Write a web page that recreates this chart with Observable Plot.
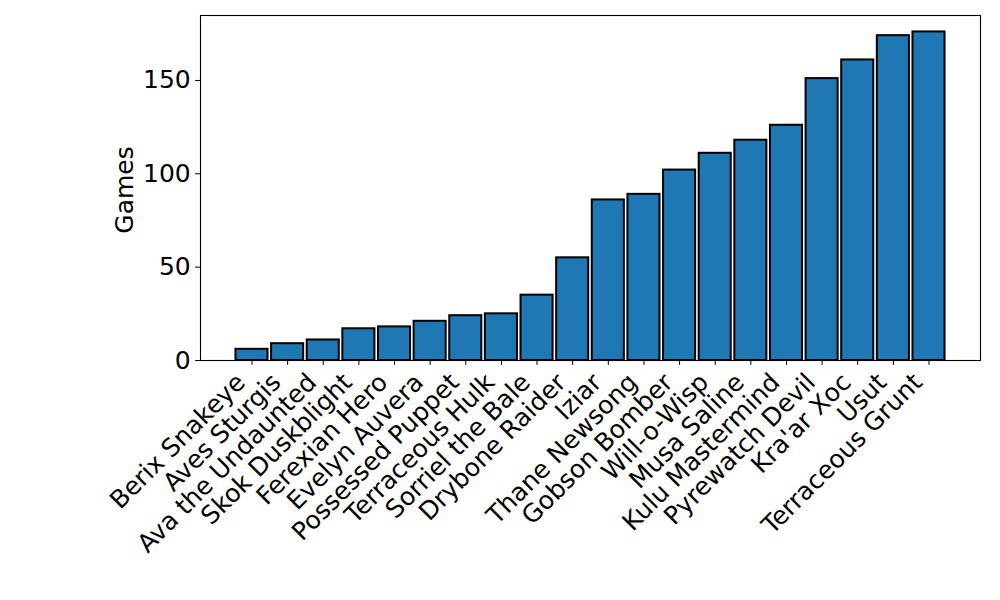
<!DOCTYPE html>
<html><head><meta charset="utf-8">
<script src="https://cdn.jsdelivr.net/npm/d3@7"></script>
<script src="https://cdn.jsdelivr.net/npm/@observablehq/plot@0.6"></script>
<style>body{margin:0;background:#fff}</style>
</head><body><div id="chart"></div>
<script>
const players = ["Berix Snakeye","Aves Sturgis","Ava the Undaunted","Skok Duskblight","Ferexian Hero","Evelyn Auvera","Possessed Puppet","Terraceous Hulk","Sorriel the Bale","Drybone Raider","Iziar","Thane Newsong","Gobson Bomber","Will-o-Wisp","Musa Saline","Kulu Mastermind","Pyrewatch Devil","Kra'ar Xoc","Usut","Terraceous Grunt"];
const games = [6, 9, 11, 17, 18, 21, 24, 25, 35, 55, 86, 89, 102, 111, 118, 126, 151, 161, 174, 176];
const yTicks = [0, 50, 100, 150];
const yLabel = "Games";

const data = players.map((p, i) => ({player: p, games: games[i]}));

const chart = Plot.plot({
  width: 1000, height: 600,
  marginLeft: 200, marginRight: 20, marginTop: 15, marginBottom: 240,
  style: {fontFamily: "DejaVu Sans", fontSize: "25px", color: "black", background: "white"},
  x: {domain: players, paddingInner: 0.1, paddingOuter: 0.995, align: 0.5, round: false, label: null},
  y: {domain: [0, 184.8], label: null},
  marks: [
    Plot.barY(data, {x: "player", y: "games", fill: "#1f77b4", stroke: "black", strokeWidth: 2}),
    Plot.frame({stroke: "black", strokeWidth: 1.1}),
    Plot.axisY({ticks: yTicks, tickSize: 4.86, tickPadding: 4.86, fontSize: 25, label: null}),
    Plot.axisX({tickSize: 4.86, tickFormat: () => "", label: null}),
    Plot.axisX({tickSize: 0, tickPadding: 9.72, tickRotate: -45, fontSize: 25, label: null, dx: -11, dy: 8}),
    Plot.text([yLabel], {frameAnchor: "left", textAnchor: "middle", dx: -76, dy: 2, rotate: -90, fontSize: 25})
  ]
});
document.getElementById("chart").appendChild(chart);
</script>
</body></html>
